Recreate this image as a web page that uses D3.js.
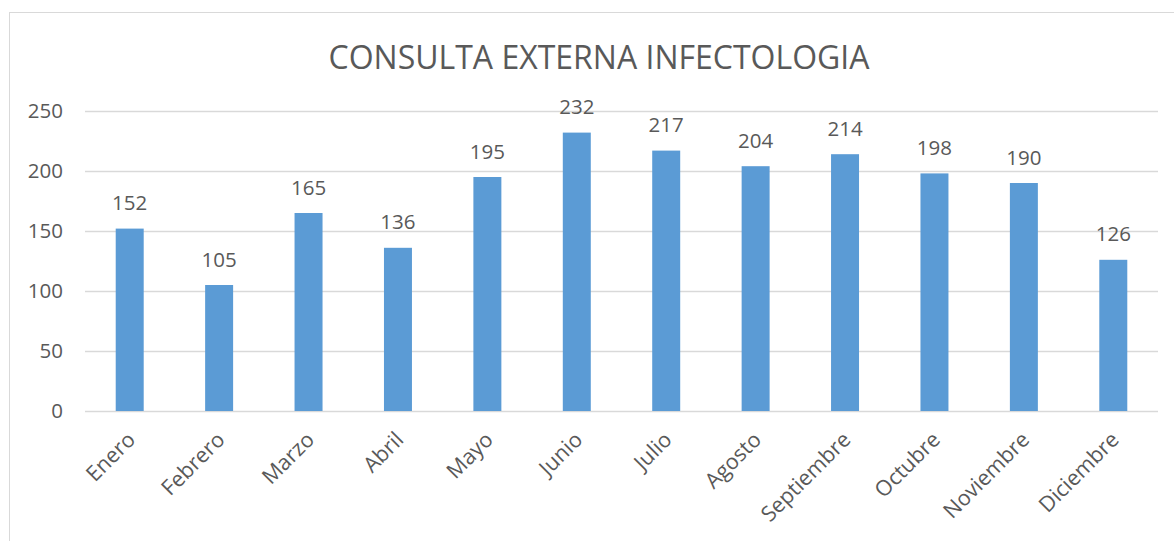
<!DOCTYPE html>
<html>
<head>
<meta charset="utf-8">
<script src="https://cdn.jsdelivr.net/npm/d3@7"></script>
<style>
  html, body { margin: 0; padding: 0; background: #fff; }
  svg { display: block; }
  text { font-family: "Open Sans", "Liberation Sans", sans-serif; fill: #595959; }
</style>
</head>
<body>
<svg id="chart" width="1174" height="541"></svg>
<script>
const months = ["Enero", "Febrero", "Marzo", "Abril", "Mayo", "Junio", "Julio",
                "Agosto", "Septiembre", "Octubre", "Noviembre", "Diciembre"];
const consultas = [152, 105, 165, 136, 195, 232, 217, 204, 214, 198, 190, 126];
const yTicks = [0, 50, 100, 150, 200, 250];
const chartTitle = "CONSULTA EXTERNA INFECTOLOGIA";

const svg = d3.select("#chart");
const W = 1174, H = 541;
const plot = { left: 85, right: 1158, top: 111, bottom: 411 };

// outer chart frame
svg.append("rect")
  .attr("x", 9.5).attr("y", 12.5)
  .attr("width", W - 9 + 20).attr("height", H)
  .attr("fill", "none").attr("stroke", "#d9d9d9").attr("stroke-width", 1);

const x = d3.scaleBand().domain(months).range([plot.left, plot.right]).padding(0);
const y = d3.scaleLinear().domain([0, 250]).range([plot.bottom, plot.top]);
const barW = x.bandwidth() * 0.313;

// gridlines and y labels
const yAxis = d3.axisLeft(y).tickValues(yTicks)
  .tickSize(-(plot.right - plot.left)).tickPadding(22);
const gy = svg.append("g").attr("transform", `translate(${plot.left},0)`).call(yAxis);
gy.select(".domain").remove();
gy.selectAll(".tick line").attr("stroke", "#d9d9d9").attr("stroke-width", 1.3);
gy.selectAll(".tick text").attr("font-size", 20.5).style("fill", "#595959")
  .attr("font-family", "'Open Sans', sans-serif");

// bars
svg.append("g").selectAll("rect").data(months).join("rect")
  .attr("x", (d) => x(d) + (x.bandwidth() - barW) / 2)
  .attr("y", (d, i) => y(consultas[i]))
  .attr("width", barW)
  .attr("height", (d, i) => y(0) - y(consultas[i]))
  .attr("fill", "#5b9bd5");

// value labels
svg.append("g").selectAll("text").data(months).join("text")
  .attr("x", (d) => x(d) + x.bandwidth() / 2)
  .attr("y", (d, i) => y(consultas[i]) - 18.5)
  .attr("text-anchor", "middle")
  .attr("font-size", 20.5)
  .text((d, i) => consultas[i]);

// category labels, rotated
const xAxis = d3.axisBottom(x).tickSize(0).tickPadding(0);
const gx = svg.append("g").attr("transform", `translate(0,${plot.bottom})`).call(xAxis);
gx.select(".domain").remove();
gx.selectAll(".tick text")
  .attr("font-size", 21.5).style("fill", "#595959")
  .attr("font-family", "'Open Sans', sans-serif")
  .attr("text-anchor", "end")
  .attr("dy", 0)
  .attr("transform", "translate(7,30) rotate(-45)");

// title
svg.append("text")
  .attr("x", 599).attr("y", 69)
  .attr("text-anchor", "middle")
  .attr("font-size", 32)
  .text(chartTitle);
</script>
</body>
</html>
